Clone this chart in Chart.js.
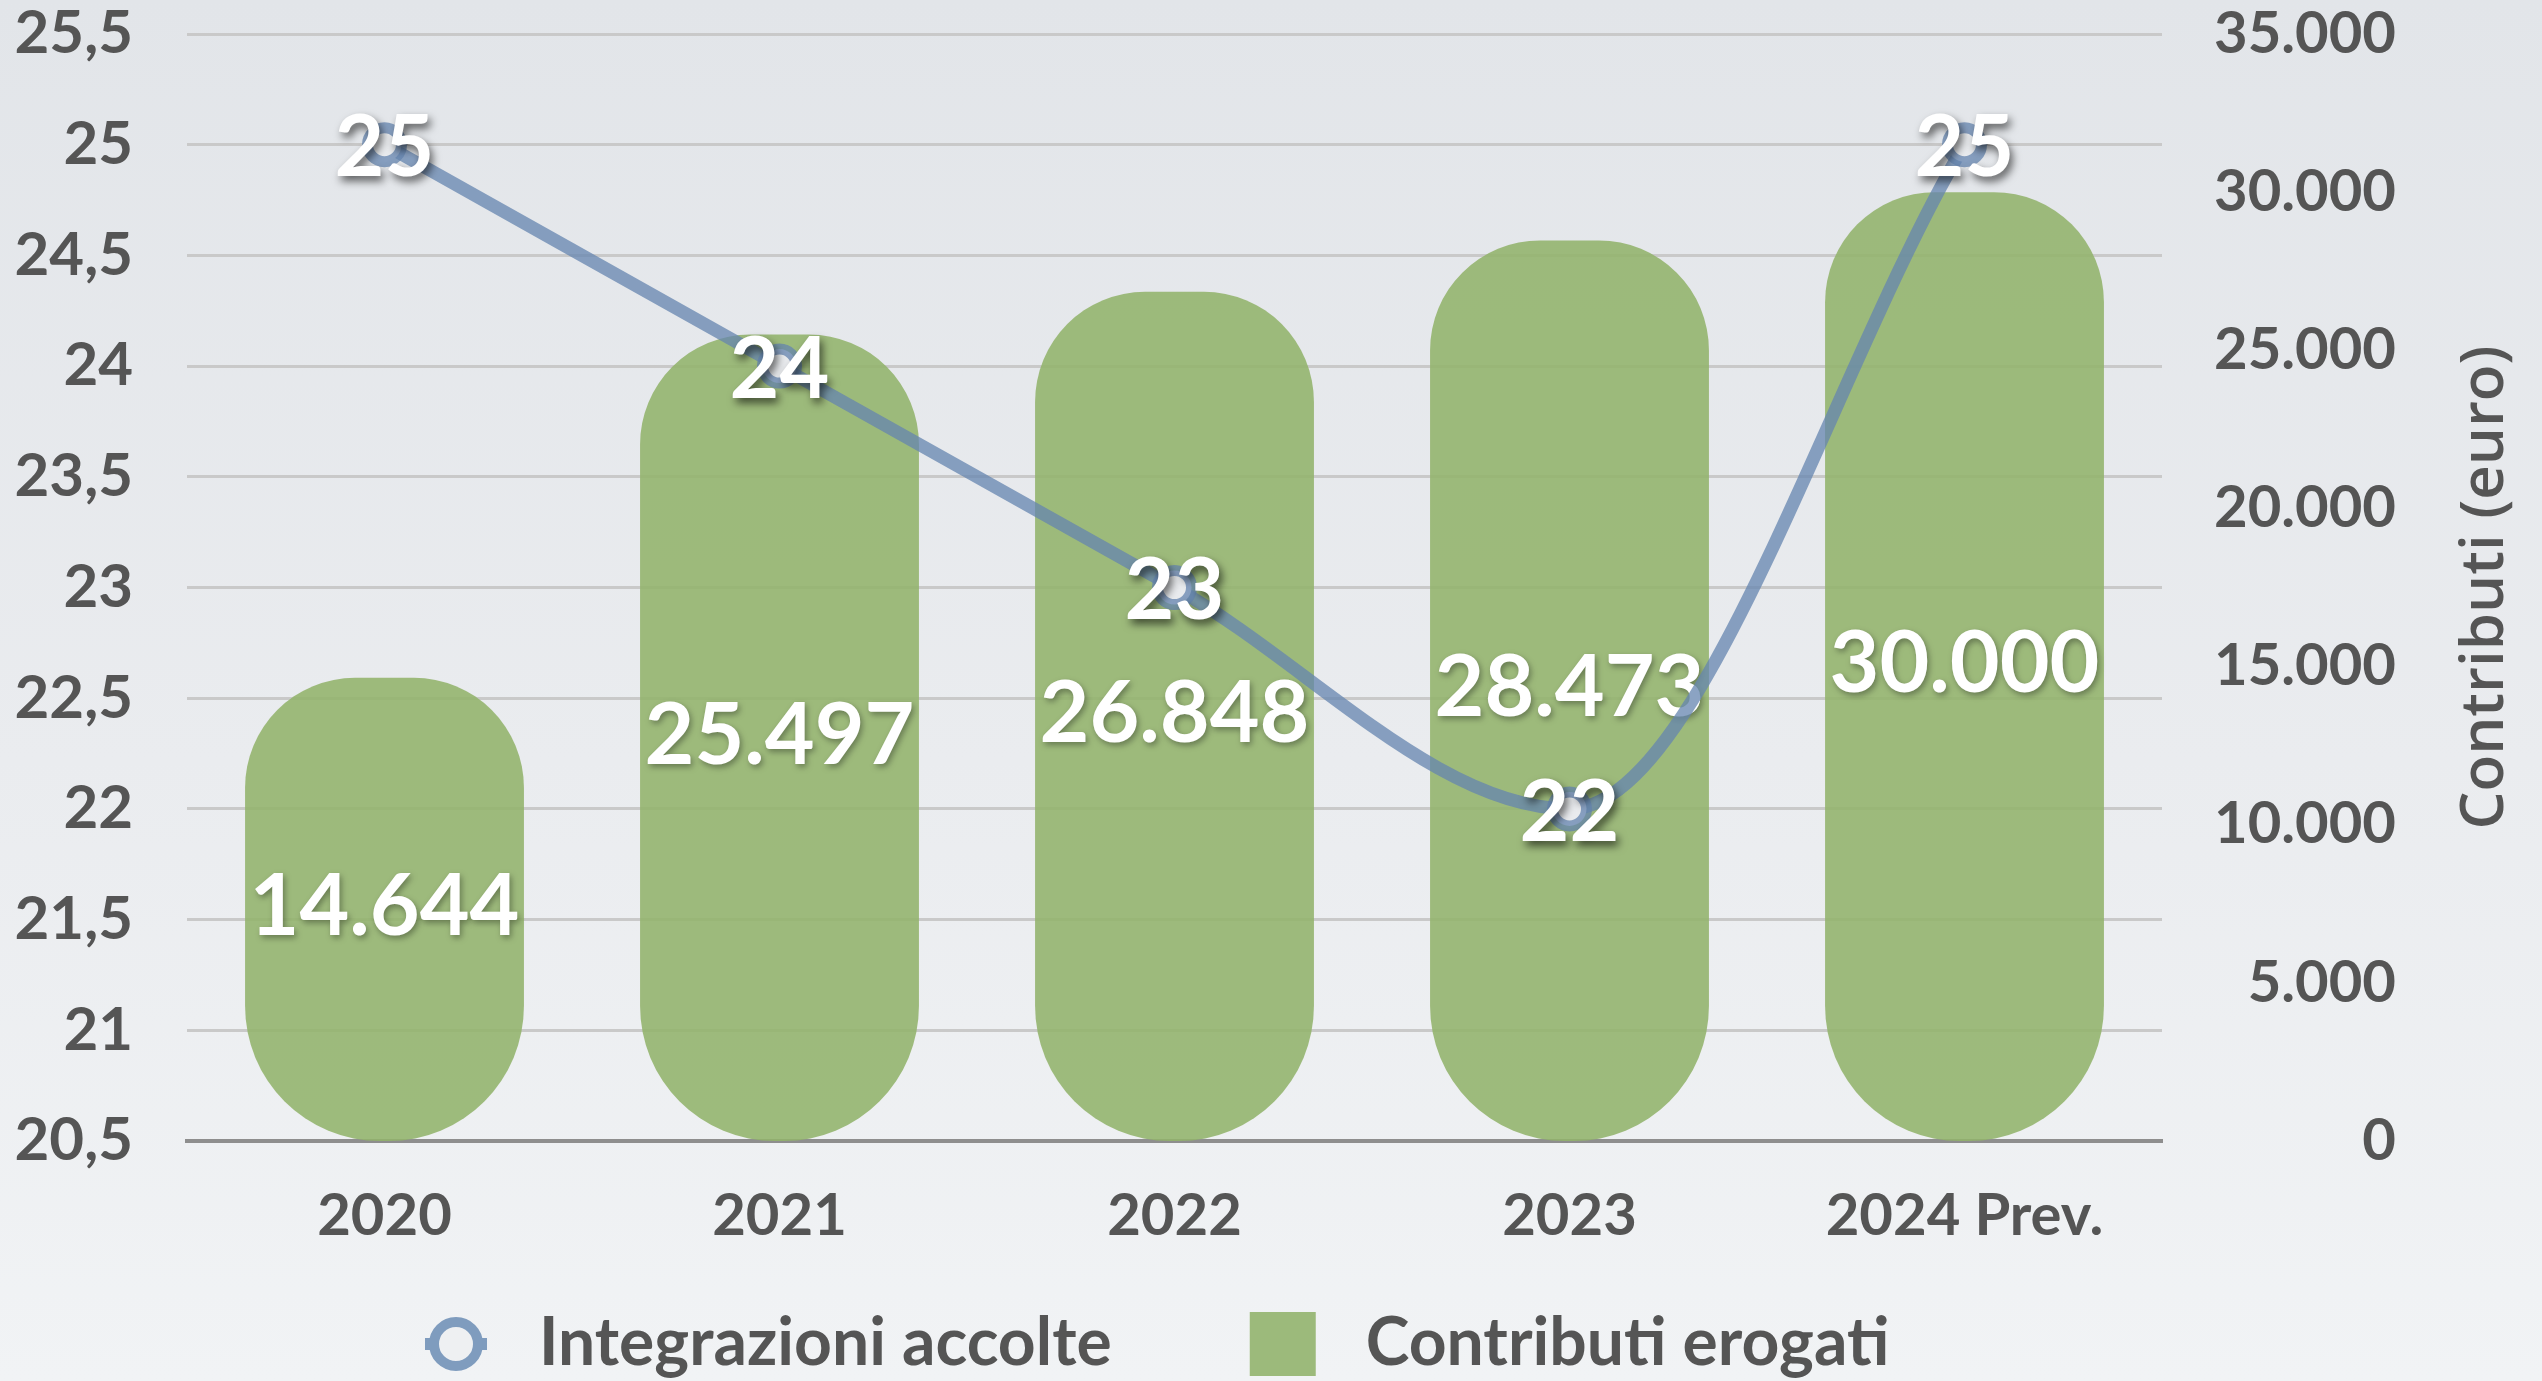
<!DOCTYPE html>
<html>
<head>
<meta charset="utf-8">
<script src="https://cdn.jsdelivr.net/npm/chart.js@4.4.1/dist/chart.umd.min.js"></script>
<style>
html, body { margin: 0; padding: 0; overflow: hidden; }
body {
    width: 2542px; height: 1381px;
    background: linear-gradient(180deg, #e2e5e9 0%, #eaecef 55%, #f1f3f5 100%);
}
#wrap { position: relative; width: 2542px; height: 1387px; }
</style>
</head>
<body>
<div id="wrap"><canvas id="myChart"></canvas></div>
<script>
// data
var years = ['2020', '2021', '2022', '2023', '2024 Prev.'];
var integrazioni = [25, 24, 23, 22, 25];
var contributi = [14644, 25497, 26848, 28473, 30000];
var leftAxis = [20.5, 25.5, 0.5];      // min, max, step
var rightAxis = [0, 35000, 5000];      // min, max, step

var textGray = '#555555';
var lineColor = 'rgba(100,132,175,0.75)';
var barColor = 'rgba(146,179,107,0.88)';
var bgColor = '#e9ebee';

function puntini(v) {
    return String(v).replace(/\B(?=(\d{3})+(?!\d))/g, '.');
}

// legend swatches (drawn off to the right so the text gap matches)
function ringSwatch() {
    var c = document.createElement('canvas');
    c.width = 180; c.height = 70;
    var g = c.getContext('2d');
    var cx = 140, cy = 35;
    g.strokeStyle = '#7f9cbe';
    g.lineWidth = 12;
    g.beginPath(); g.moveTo(cx - 31, cy); g.lineTo(cx + 31, cy); g.stroke();
    g.beginPath(); g.arc(cx, cy, 22, 0, Math.PI * 2);
    g.fillStyle = '#eef0f2'; g.fill();
    g.lineWidth = 10; g.stroke();
    return c;
}
function rectSwatch() {
    var c = document.createElement('canvas');
    c.width = 180; c.height = 70;
    var g = c.getContext('2d');
    g.fillStyle = '#9cba7b';
    g.fillRect(107, 3, 66, 64);
    return c;
}

var valueLabels = {
    id: 'valueLabels',
    afterDatasetDraw: function(chart, args) {
        var ctx = chart.ctx;
        var meta = args.meta;
        var ds = chart.data.datasets[args.index];
        ctx.save();
        ctx.font = 'bold 86px Lato';
        ctx.fillStyle = '#ffffff';
        ctx.textAlign = 'center';
        ctx.textBaseline = 'middle';
        meta.data.forEach(function(el, i) {
            var y = el.y + 4;
            if (meta.type === 'bar') {
                y = (el.y + el.base) / 2 - 2;
                ctx.shadowColor = 'rgba(0,0,0,0.35)';
                ctx.shadowBlur = 6; ctx.shadowOffsetX = 2; ctx.shadowOffsetY = 3;
            } else {
                ctx.shadowColor = 'rgba(0,0,0,0.6)';
                ctx.shadowBlur = 8; ctx.shadowOffsetX = 3; ctx.shadowOffsetY = 5;
            }
            ctx.fillText(puntini(ds.data[i]), el.x, y);
        });
        ctx.restore();
    }
};

var rightTitle = {
    id: 'rightTitle',
    afterDraw: function(chart) {
        var ctx = chart.ctx, a = chart.chartArea;
        ctx.save();
        ctx.translate(chart.width - 56, (a.top + a.bottom) / 2);
        ctx.rotate(-Math.PI / 2);
        ctx.font = '600 60px "Open Sans"';
        ctx.fillStyle = textGray;
        ctx.textAlign = 'center';
        ctx.textBaseline = 'middle';
        ctx.fillText('Contributi (euro)', 0, 0);
        ctx.restore();
    }
};

var legendShift = {
    id: 'legendShift',
    afterLayout: function(chart) {
        chart.legend.left = 285;
    }
};

function noEdgePadding(s) {
    s.paddingTop = 0;
    s.paddingBottom = 0;
}

function draw() {
    var ring = ringSwatch(), rect = rectSwatch();
    var ctx = document.getElementById('myChart');
    new Chart(ctx, {
        data: {
            labels: years,
            datasets: [
                {
                    type: 'line',
                    label: 'Integrazioni accolte',
                    data: integrazioni,
                    yAxisID: 'y',
                    borderColor: lineColor,
                    borderWidth: 13,
                    backgroundColor: bgColor,
                    pointRadius: 17,
                    pointBorderWidth: 11,
                    pointBackgroundColor: bgColor,
                    pointBorderColor: lineColor,
                    cubicInterpolationMode: 'monotone'
                },
                {
                    type: 'bar',
                    label: 'Contributi erogati',
                    data: contributi,
                    yAxisID: 'yR',
                    backgroundColor: barColor,
                    borderWidth: 0,
                    borderSkipped: false,
                    borderRadius: {topLeft: 110, topRight: 110, bottomLeft: 135, bottomRight: 135},
                    barPercentage: 0.706,
                    categoryPercentage: 1
                }
            ]
        },
        options: {
            responsive: true,
            maintainAspectRatio: false,
            animation: false,
            devicePixelRatio: 1,
            layout: { padding: { top: 34, left: 0, right: 146, bottom: 0 } },
            scales: {
                x: {
                    grid: { display: false },
                    border: { color: '#8e8e8e', width: 4 },
                    ticks: {
                        color: textGray,
                        padding: 32,
                        font: { family: 'Lato', weight: 'bold', size: 58 }
                    },
                    afterFit: function(s) { s.height = 149; }
                },
                y: {
                    position: 'left',
                    min: leftAxis[0],
                    max: leftAxis[1],
                    grid: {
                        drawTicks: false,
                        lineWidth: 3,
                        color: function(c) {
                            return c.tick && c.tick.value === leftAxis[0] ? 'rgba(0,0,0,0)' : '#c9c9c9';
                        }
                    },
                    border: { display: false },
                    ticks: {
                        stepSize: leftAxis[2],
                        color: textGray,
                        padding: 54,
                        font: { family: 'Lato', weight: 'bold', size: 60, lineHeight: 1 },
                        callback: function(v) { return String(v).replace('.', ','); }
                    },
                    afterFit: function(s) { s.width = 187; noEdgePadding(s); }
                },
                yR: {
                    position: 'right',
                    min: rightAxis[0],
                    max: rightAxis[1],
                    grid: { display: false },
                    border: { display: false },
                    ticks: {
                        stepSize: rightAxis[2],
                        color: textGray,
                        padding: 40,
                        crossAlign: 'far',
                        font: { family: 'Lato', weight: 'bold', size: 58, lineHeight: 1 },
                        callback: function(v) { return puntini(v); }
                    },
                    afterFit: function(s) { s.width = 234; noEdgePadding(s); }
                }
            },
            plugins: {
                tooltip: { enabled: false },
                legend: {
                    position: 'bottom',
                    align: 'start',
                    labels: {
                        usePointStyle: true,
                        pointStyleWidth: 200,
                        padding: 21,
                        color: textGray,
                        font: { family: 'Lato', weight: 'bold', size: 66 },
                        generateLabels: function(chart) {
                            var items = Chart.defaults.plugins.legend.labels.generateLabels(chart);
                            items[0].pointStyle = ring;
                            items[1].pointStyle = rect;
                            return items;
                        }
                    }
                }
            }
        },
        plugins: [valueLabels, rightTitle, legendShift]
    });
}

Promise.all([
    document.fonts.load('bold 60px Lato'),
    document.fonts.load('600 60px "Open Sans"')
]).then(draw, draw);
</script>
</body>
</html>
